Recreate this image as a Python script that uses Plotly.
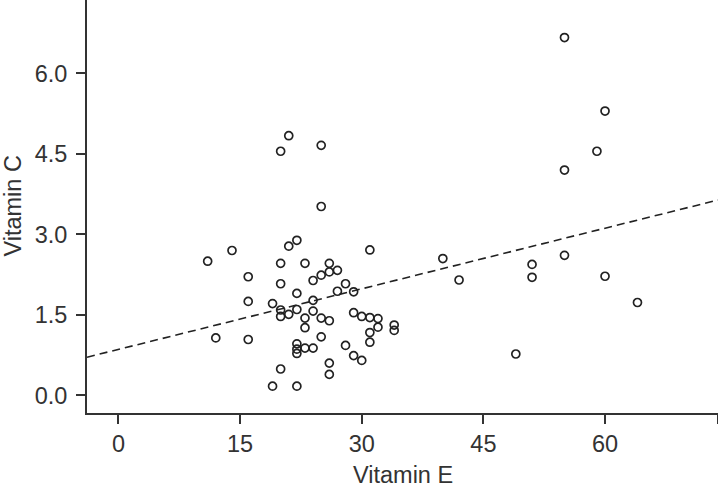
import plotly.graph_objects as go

# Vitamin E (x) and Vitamin C (y) readings
vit_e = [11, 14, 21, 22, 31, 20, 23, 26, 16, 26, 27, 25, 24, 20, 28, 27, 29, 22,
         16, 24, 19, 20, 22, 21, 20, 24, 29, 30, 31, 32, 23, 25, 26, 32, 34, 34,
         23, 31, 12, 16, 25, 31, 22, 28, 22, 23, 24, 22, 29, 30, 26, 20, 26, 19,
         22, 21, 20, 25, 25, 55, 60, 59, 55, 40, 42, 51, 51, 55, 60, 64, 49]
vit_c = [2.50, 2.70, 2.78, 2.89, 2.71, 2.46, 2.46, 2.46, 2.21, 2.30, 2.33, 2.24,
         2.14, 2.08, 2.08, 1.94, 1.93, 1.90, 1.75, 1.77, 1.71, 1.59, 1.60, 1.51,
         1.47, 1.57, 1.54, 1.47, 1.45, 1.43, 1.44, 1.44, 1.39, 1.27, 1.31, 1.21,
         1.26, 1.17, 1.07, 1.04, 1.09, 0.99, 0.96, 0.93, 0.86, 0.88, 0.88, 0.78,
         0.74, 0.65, 0.60, 0.49, 0.39, 0.17, 0.17, 4.84, 4.55, 4.66, 3.52, 6.67,
         5.30, 4.55, 4.20, 2.55, 2.15, 2.44, 2.20, 2.61, 2.22, 1.73, 0.77]

# fitted line end points
fit_x = [-3.88, 73.93]
fit_y = [0.71, 3.64]

x_ticks = [0, 15, 30, 45, 60, 73.9]
x_labels = ["0", "15", "30", "45", "60", ""]
y_ticks = [0.0, 1.5, 3.0, 4.5, 6.0]
y_labels = ["0.0", "1.5", "3.0", "4.5", "6.0"]

ink = "#333333"
font = "Liberation Sans, Arial, sans-serif"

fig = go.Figure()
fig.add_trace(go.Scatter(
    x=fit_x, y=fit_y, mode="lines",
    line=dict(color="#222222", width=1.6, dash="8px,5px"),
    hoverinfo="skip"
))
fig.add_trace(go.Scatter(
    x=vit_e, y=vit_c, mode="markers",
    marker=dict(symbol="circle-open", size=8, color="#222222",
                line=dict(width=1.7))
))

axis_common = dict(
    showline=True, linecolor=ink, linewidth=2,
    ticks="outside", ticklen=9, tickwidth=2, tickcolor=ink,
    showgrid=False, zeroline=False,
    tickfont=dict(family=font, size=23.5, color=ink),
)

fig.update_layout(
    width=718, height=488,
    margin=dict(l=87, r=0, t=0, b=75),
    paper_bgcolor="white", plot_bgcolor="white",
    showlegend=False,
    xaxis=dict(range=[-3.88, 73.93], tickvals=x_ticks, ticktext=x_labels,
               **axis_common),
    yaxis=dict(range=[-0.33, 7.37], tickvals=y_ticks, ticktext=y_labels,
               ticklabelstandoff=4, **axis_common),
    annotations=[
        dict(text="Vitamin E", xref="paper", yref="paper", x=0.5, y=-0.151,
             xanchor="center", yanchor="middle", showarrow=False,
             font=dict(family=font, size=23.5, color=ink)),
        dict(text="Vitamin C", xref="paper", yref="paper", x=-0.1188, y=0.5,
             xanchor="center", yanchor="middle", textangle=-90, showarrow=False,
             font=dict(family=font, size=23.5, color=ink)),
    ],
)

fig.write_html("out.html", config={"displayModeBar": False},
               post_script="document.body.style.margin='0';")
